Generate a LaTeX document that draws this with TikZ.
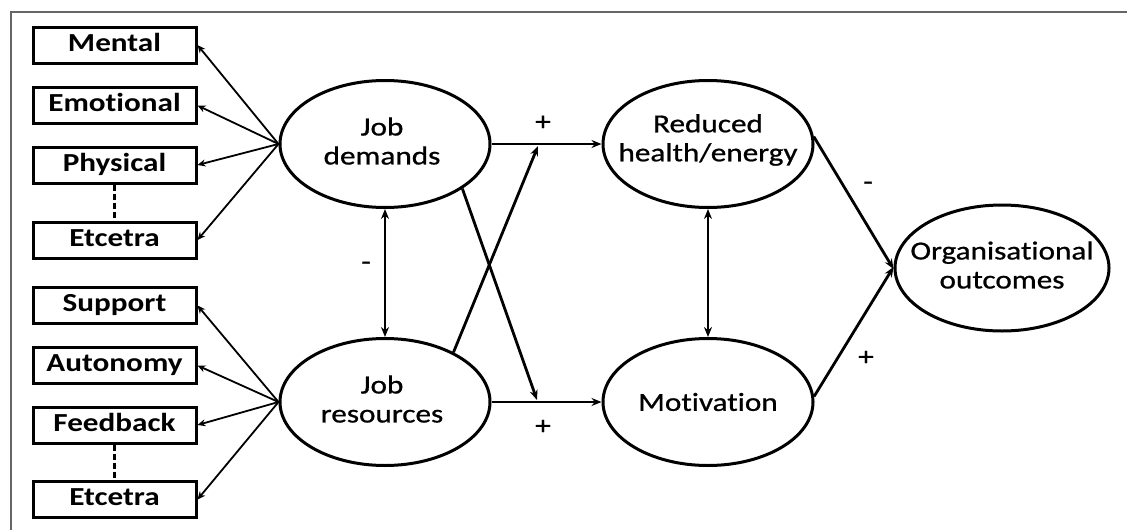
\documentclass[tikz,border=0pt]{standalone}
\usepackage{fontspec}
\setmainfont{Carlito}[FakeStretch=1.2,Ligatures=NoCommon,
  UprightFeatures={FakeBold=0.8}]
\usetikzlibrary{shapes.geometric,arrows.meta}
\begin{document}
\begin{tikzpicture}[x=1pt,y=-1pt,
  item/.style={draw,line width=3pt,minimum width=163pt,minimum height=36pt,
    inner sep=0pt,text height=17pt,text depth=5pt,
    font=\fontsize{26}{29}\selectfont\bfseries},
  oval/.style={draw,ellipse,line width=3pt,inner sep=0pt,
    minimum width=210pt,minimum height=127pt},
  lbl/.style={font=\fontsize{26}{29}\selectfont,align=center,inner sep=0pt},
  sign/.style={font=\fontsize{26}{29}\selectfont,inner sep=0pt},
  fan/.style={line width=1.8pt,-{Stealth[length=8pt,width=7pt]}},
  link/.style={line width=2.8pt,-{Stealth[length=10pt,width=8pt]}},
  both/.style={line width=2.8pt,{Stealth[length=10pt,width=8pt]}-{Stealth[length=10pt,width=8pt]}},
  dots/.style={line width=3pt,dash pattern=on 6pt off 3pt}
]
\useasboundingbox (0,0) rectangle (1127,530);
\fill[white] (0,0) rectangle (1127,530);

% frame
\draw[gray!80!black,line width=2.5pt] (11,530) -- (11,12) -- (1127,12);

% demand items
\node[item] (dm) at (114.5,45)  {Mental};
\node[item] (de) at (114.5,105.5) {Emotional};
\node[item] (dp) at (114.5,165) {Physical};
\node[item] (dx) at (114.5,240) {Etcetra};
% resource items
\node[item] (rs) at (114.5,305.5) {Support};
\node[item] (ra) at (114.5,365.5) {Autonomy};
\node[item] (rf) at (114.5,425) {Feedback};
\node[item] (rx) at (114.5,499.5) {Etcetra};

\draw[dots] (dp.south) -- (dx.north);
\draw[dots] (rf.south) -- (rx.north);

% latent factors
\node[oval] (jd) at (385,144) {};
\node[oval] (jr) at (385,402) {};
\node[oval] (rh) at (708,144) {};
\node[oval] (mo) at (708,402) {};
\node[oval,minimum width=214pt,minimum height=126pt] (oo) at (1002,268) {};

\node[lbl] (jdt) at (382,141) {Job\\demands};
\node[lbl] (jrt) at (382,399) {Job\\resources};
\node[lbl] (rht) at (708,140) {Reduced\\health/energy};
\node[lbl] (mot) at (708,402) {Motivation};
\node[lbl] (oot) at (1002,265) {Organisational\\outcomes};

% indicators
\foreach \b in {dm,de,dp,dx} \draw[fan] (jd.west) -- (\b.east);
\foreach \b in {rs,ra,rf,rx} \draw[fan] (jr.west) -- (\b.east);

% structural paths
\coordinate (up) at (538,146);
\coordinate (dn) at (537,400);
\draw[link] (jd.east) -- (rh.west);
\draw[link] (jr.east) -- (mo.west);
\draw[link] (jr.36) -- (up);
\draw[link] (jd.-30) -- (dn);
\draw[both] (jd.south) -- (jr.north);
\draw[both] (rh.south) -- (mo.north);
\draw[link] (rh.4) -- ([yshift=-1pt]oo.west);
\draw[link] (mo.3) -- ([yshift=1pt]oo.west);

% signs
\node[sign] (s1) at (543,123) {+};
\node[sign] (s2) at (543,427) {+};
\node[sign] (s3) at (366,266) {-};
\node[sign] (s4) at (868,186) {-};
\node[sign] (s5) at (866,358) {+};
\end{tikzpicture}
\end{document}
